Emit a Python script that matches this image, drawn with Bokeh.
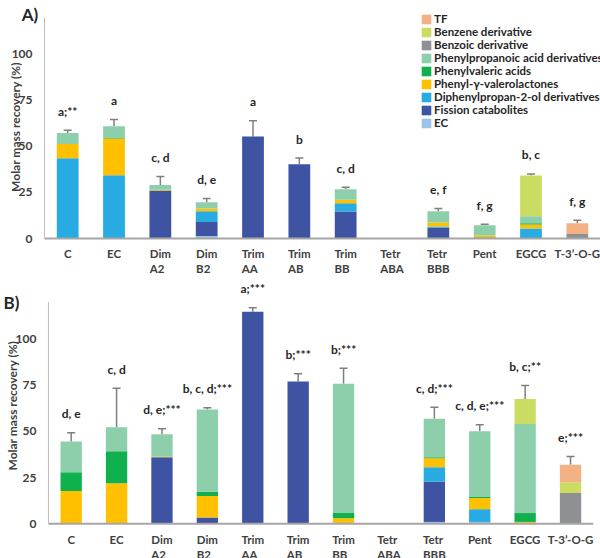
import math
from bokeh.plotting import figure
from bokeh.models import (ColumnDataSource, Range1d, Legend, LegendItem,
                          LabelSet, Label, Whisker, TeeHead)
from bokeh.layouts import column
from bokeh.core.properties import value
from bokeh.embed import file_html
from bokeh.resources import INLINE

FONT = "Lato"

# ---------------- data ----------------
categories = ["C", "EC", "Dim\nA2", "Dim\nB2", "Trim\nAA", "Trim\nAB", "Trim\nBB",
              "Tetr\nABA", "Tetr\nBBB", "Pent", "EGCG", "T-3\u2019-O-G"]

series_names = ["EC", "Fission catabolites", "Diphenylpropan-2-ol derivatives",
                "Phenyl-\u03b3-valerolactones", "Phenylvaleric acids",
                "Phenylpropanoic acid derivatives", "Benzoic derivative",
                "Benzene derivative", "TF"]
series_colors = ["#9DC3E6", "#3E54A3", "#27ABE2", "#FFC000", "#10B04E",
                 "#8DCFAA", "#8E9094", "#CBDC62", "#F4B183"]

# Panel A (segment heights, bottom -> top)
a_ec       = [0, 0, 0, 1.4, 0, 0, 0, 0, 0, 0, 0, 0]
a_fission  = [0, 0, 26.1, 7.5, 55.4, 40.4, 14.7, 0, 5.8, 0, 0, 0]
a_diphenyl = [43.6, 34.3, 0, 5.9, 0, 0, 4.5, 0, 0.7, 0.7, 5.4, 0]
a_pgvl     = [7.7, 20.0, 0.4, 1.5, 0, 0, 1.8, 0, 2.2, 1.1, 2.2, 0]
a_pva      = [0, 0.6, 0, 0, 0, 0, 0, 0, 0, 0, 0.7, 0]
a_ppa      = [6.0, 6.1, 2.6, 3.4, 0, 0, 5.8, 0, 6.1, 5.4, 3.8, 0]
a_benzoic  = [0, 0, 0, 0, 0, 0, 0, 0, 0, 0, 0, 2.5]
a_benzene  = [0, 0, 0, 0, 0, 0, 0, 0, 0, 0, 22.1, 0]
a_tf       = [0, 0, 0, 0, 0, 0, 0, 0, 0, 0, 0, 5.8]
a_err      = [1.5, 3.7, 4.6, 2.0, 8.6, 3.3, 1.0, 0, 1.5, 0.6, 0.9, 1.6]
a_letters  = ["a;**", "a", "c, d", "d, e", "a", "b", "c, d", "", "e, f", "f, g", "b, c", "f, g"]

# Panel B
b_ec       = [0, 0, 0, 0, 0, 0, 0, 0, 1.0, 1.0, 0, 0]
b_fission  = [0, 0, 36.0, 3.4, 114.8, 77.0, 0, 0, 21.7, 0, 0, 0]
b_diphenyl = [0, 0, 0, 0, 0, 0, 0, 0, 7.9, 6.9, 0, 0]
b_pgvl     = [17.8, 22.0, 0.3, 11.7, 0, 0, 3.0, 0, 4.9, 6.1, 1.0, 0]
b_pva      = [10.1, 17.3, 0, 2.2, 0, 0, 3.1, 0, 0.5, 0.8, 4.8, 0]
b_ppa      = [16.6, 13.0, 12.1, 44.6, 0, 0, 69.7, 0, 20.8, 35.3, 48.2, 0]
b_benzoic  = [0, 0, 0, 0, 0, 0, 0, 0, 0, 0, 0, 16.6]
b_benzene  = [0, 0, 0, 0, 0, 0, 0, 0, 0, 0, 13.6, 5.9]
b_tf       = [0, 0, 0, 0, 0, 0, 0, 0, 0, 0, 0, 9.4]
b_err      = [4.8, 21.1, 3.1, 0.9, 2.2, 4.2, 8.4, 0, 6.3, 3.5, 7.2, 4.5]
b_letters  = ["d, e", "c, d", "d, e;***", "b, c, d;***", "a;***", "b;***", "b;***", "",
              "c, d;***", "c, d, e;***", "b, c;**", "e;***"]

y_ticks = [0, 25, 50, 75, 100]
y_tick_labels = ["0", "25", "50", "75", "100"]
y_axis_max = 120
y_title = "Molar mass recovery (%)"

keys = ["s%d" % i for i in range(len(series_names))]
n_cat = len(categories)
xpos = [i + 0.5 for i in range(n_cat)]


def make_panel(series, err, letters, panel_label, height, x_range, y_range,
               title_xy, plabel_xy, cat_offset, legend_loc):
    p = figure(x_range=Range1d(*x_range), y_range=Range1d(*y_range),
               width=600, height=height, output_backend="svg", toolbar_location=None,
               min_border=0, min_border_left=0, min_border_right=0,
               min_border_top=0, min_border_bottom=0)
    p.xaxis.visible = False
    p.yaxis.visible = False
    p.xgrid.grid_line_color = None
    p.ygrid.grid_line_color = None
    p.outline_line_color = None

    data = {"x": xpos}
    for k, s in zip(keys, series):
        data[k] = s
    src = ColumnDataSource(data)
    rs = p.vbar_stack(keys, x="x", width=0.47, source=src,
                      fill_color=series_colors, line_color=None)

    # axis lines (data coordinates)
    p.segment(x0=[0], y0=[0], x1=[0], y1=[y_axis_max], line_color="#BFBFBF", line_width=1)
    p.segment(x0=[0], y0=[0], x1=[n_cat], y1=[0], line_color="#A6A6A6", line_width=2)

    # y tick labels
    tsrc = ColumnDataSource(dict(x=[0] * len(y_ticks), y=y_ticks, text=y_tick_labels))
    p.add_layout(LabelSet(x="x", y="y", text="text", source=tsrc, x_offset=-12,
                          text_align="right", text_baseline="middle",
                          text_font=value(FONT), text_font_style="bold",
                          text_font_size="12px", text_color="#404040"))

    # category labels
    csrc = ColumnDataSource(dict(x=xpos, y=[0] * n_cat, text=categories))
    p.add_layout(LabelSet(x="x", y="y", text="text", source=csrc, y_offset=cat_offset,
                          text_align="center", text_baseline="top",
                          text_font=value(FONT), text_font_style="bold",
                          text_font_size="11.5px", text_color="#404040",
                          text_line_height=1.2))

    tops = [sum(vals) for vals in zip(*series)]
    idx = [i for i in range(n_cat) if err[i] > 0]
    wsrc = ColumnDataSource(dict(x=[xpos[i] for i in idx],
                                 lower=[tops[i] for i in idx],
                                 upper=[tops[i] + err[i] for i in idx]))
    p.add_layout(Whisker(base="x", lower="lower", upper="upper", source=wsrc,
                         dimension="height", line_color="#7F7F7F", line_width=1.5,
                         lower_head=None,
                         upper_head=TeeHead(size=8, line_color="#7F7F7F", line_width=1.5)))

    lidx = [i for i in range(n_cat) if letters[i]]
    lsrc = ColumnDataSource(dict(x=[xpos[i] for i in lidx],
                                 y=[tops[i] + err[i] for i in lidx],
                                 text=[letters[i] for i in lidx]))
    p.add_layout(LabelSet(x="x", y="y", text="text", source=lsrc, y_offset=19,
                          text_align="center", text_baseline="middle",
                          text_font=value(FONT), text_font_style="bold",
                          text_font_size="12px", text_color="#262626"))

    p.add_layout(Label(x=title_xy[0], y=title_xy[1], text=y_title, angle=math.pi / 2,
                       text_align="center", text_baseline="middle",
                       text_font=FONT, text_font_style="bold",
                       text_font_size="12px", text_color="#404040"))
    p.add_layout(Label(x=plabel_xy[0], y=plabel_xy[1], text=panel_label,
                       text_align="center", text_baseline="middle",
                       text_font=FONT, text_font_style="bold",
                       text_font_size="17px", text_color="#262626"))

    if legend_loc is not None:
        items = [LegendItem(label=n, renderers=[r])
                 for n, r in zip(series_names, rs)][::-1]
        leg = Legend(items=items, location=legend_loc, padding=0, margin=0,
                     spacing=0, glyph_width=12, glyph_height=12, label_height=13,
                     label_standoff=2, border_line_color=None,
                     background_fill_alpha=0,
                     label_text_font=FONT, label_text_font_style="bold",
                     label_text_font_size="11.5px", label_text_line_height=1.0,
                     label_text_color="#262626")
        p.add_layout(leg)
    return p


series_a = [a_ec, a_fission, a_diphenyl, a_pgvl, a_pva, a_ppa, a_benzoic, a_benzene, a_tf]
series_b = [b_ec, b_fission, b_diphenyl, b_pgvl, b_pva, b_ppa, b_benzoic, b_benzene, b_tf]

pa = make_panel(series_a, a_err, a_letters, "A)", height=275,
                x_range=(-0.950, 12.0), y_range=(-20.1, 129.3),
                title_xy=(-0.626, 60.6), plabel_xy=(-0.313, 121.7),
                cat_offset=-8, legend_loc=(420, 146))
pb = make_panel(series_b, b_err, b_letters, "B)", height=283,
                x_range=(-1.057, 12.16), y_range=(-18.8, 134.4),
                title_xy=(-0.793, 64), plabel_xy=(-0.815, 119.8),
                cat_offset=-9, legend_loc=None)

layout = column(pa, pb, spacing=0)
open("out.html", "w").write(file_html(layout, INLINE))
